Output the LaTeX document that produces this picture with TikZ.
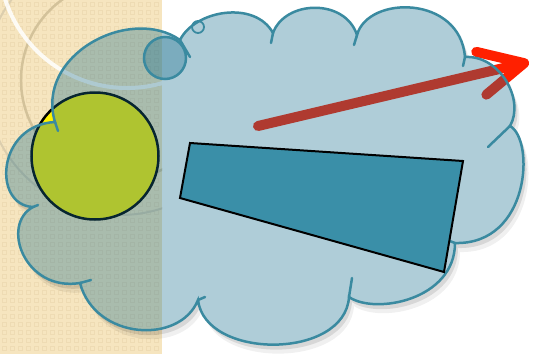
\documentclass[tikz,border=0pt]{standalone}
\usetikzlibrary{arrows.meta}
\definecolor{CloudTeal}{RGB}{23,109,141}
\definecolor{CloudEdge}{HTML}{3A8AA0}
\definecolor{PaperBeige}{HTML}{F6E5BF}
\definecolor{PaperDot}{HTML}{EEDBB3}
\definecolor{RingTan}{HTML}{D3C29A}
\definecolor{WedgeTeal}{HTML}{3A8FA8}
\definecolor{ArrowRed}{RGB}{255,32,0}

% cloud outline, pixel coordinates of the reference
\newcommand\cloudpath{(55,122) .. controls (35,55) and (130,5) .. (180,40)
  .. controls (195,10) and (255,0) .. (273,33)
  .. controls (285,0) and (345,-2) .. (357,35)
  .. controls (368,-5) and (460,-5) .. (465,57)
  .. controls (500,55) and (525,100) .. (510,126)
  .. controls (535,140) and (530,245) .. (455,243)
  .. controls (455,300) and (375,315) .. (349,297)
  .. controls (345,360) and (205,360) .. (198,300)
  .. controls (180,345) and (95,340) .. (80,283)
  .. controls (25,292) and (0,225) .. (33,207)
  .. controls (-8,205) and (-3,125) .. (55,122) -- cycle}

\begin{document}
\begin{tikzpicture}[x=1pt,y=-1pt,
  cloudfill/.style={fill=CloudTeal,fill opacity=.34},
  cloudline/.style={draw=CloudEdge,line width=2.5pt,line cap=round}]
  \useasboundingbox (0,0) rectangle (533,354);
  \fill[white] (0,0) rectangle (533,354);
  % patterned paper on the left
  \fill[PaperBeige] (0,0) rectangle (162,354);
  \foreach \i in {0,...,19}
    \foreach \j in {0,...,43}
      \draw[PaperDot,line width=1pt] (\i*8+2,\j*8+2) rectangle ++(4,4);
  \begin{scope}
    \clip (0,0) rectangle (162,354);
    \draw[RingTan,line width=2.5pt] (120,80) circle (99pt);
    \draw[RingTan!80,line width=2pt] (120,80) circle (135pt);
    \draw[white,opacity=.85,line width=4pt] (127,-40) circle (128pt);
  \end{scope}

  % arrow and disc sit under the cloud
  \coordinate (tail) at (258,126);
  \coordinate (head) at (529,62);
  \draw[ArrowRed,line width=10pt,line cap=round,
    -{Straight Barb[round,length=44pt,width=44pt]}] (tail) -- (head);
  \node[circle,draw=black,fill=yellow,line width=2.5pt,minimum size=127pt,inner sep=0pt] (disc) at (95,156) {};

  % shadow outside the cloud
  \begin{scope}[even odd rule]
    \clip (-10,-10) rectangle (543,364) \cloudpath;
    \fill[black,opacity=.10,shift={(3,5)}] \cloudpath;
    \fill[black,opacity=.06,shift={(5,9)}] \cloudpath;
  \end{scope}

  \fill[cloudfill] \cloudpath;
  \draw[cloudline] \cloudpath;
  \foreach \ax/\ay/\bx/\by in {55/122/58/131,180/40/190/57,273/33/271/43,
      357/35/354/45,465/57/463/66,510/126/488/147,455/243/447/240,
      349/297/352/278,198/300/205/297,80/283/91/280,33/207/38/205}
    \draw[cloudline] (\ax,\ay) -- (\bx,\by);
  \draw[cloudfill,cloudline] (165,58) circle (21pt);
  \draw[cloudline,line width=1.8pt] (198,27) circle (6pt);

  % wedge on top
  \draw[fill=WedgeTeal,line width=2pt] (190,143) coordinate (w1) -- (463,161) coordinate (w2)
    -- (444,272) coordinate (w3) -- (180,198) coordinate (w4) -- cycle;
\end{tikzpicture}
\end{document}
